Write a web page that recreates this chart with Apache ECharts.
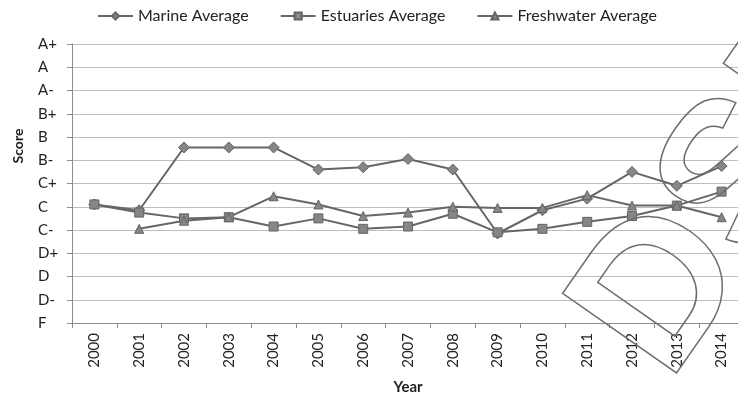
<!DOCTYPE html>
<html>
<head>
<meta charset="utf-8">
<script src="https://cdn.jsdelivr.net/npm/echarts@6/dist/echarts.min.js"></script>
<style>
html,body{margin:0;padding:0;background:#fff;}
#chart{width:738px;height:396px;}
</style>
</head>
<body>
<div id="chart"></div>
<script>
// Data
var years = ['2000','2001','2002','2003','2004','2005','2006','2007','2008','2009','2010','2011','2012','2013','2014'];
var gradeLabels = ['F','D-','D','D+','C-','C','C+','B-','B','B+','A-','A','A+'];
var marine = [5.1, 4.85, 7.55, 7.55, 7.55, 6.6, 6.7, 7.05, 6.6, 3.85, 4.85, 5.35, 6.5, 5.9, 6.75];
var estuaries = [5.1, 4.75, 4.5, 4.55, 4.15, 4.5, 4.05, 4.15, 4.7, 3.9, 4.05, 4.35, 4.6, 5.05, 5.65];
var freshwater = [null, 4.05, 4.4, 4.55, 5.45, 5.1, 4.6, 4.75, 5.0, 4.95, 4.95, 5.5, 5.05, 5.05, 4.55];

var FONT = 'Lato, "Open Sans", sans-serif';
var lineColor = '#666666';

var chart = echarts.init(document.getElementById('chart'));

function mk(name, data, symbol, size) {
  return {
    name: name,
    type: 'line',
    data: data,
    symbol: symbol,
    symbolSize: size,
    connectNulls: false,
    lineStyle: { color: lineColor, width: 2 },
    itemStyle: { color: '#868686', borderColor: '#646464', borderWidth: 1 },
    emphasis: { disabled: true },
    animation: false
  };
}

chart.setOption({
  backgroundColor: '#ffffff',
  animation: false,
  legend: {
    top: 3,
    left: 92,
    itemWidth: 35,
    itemHeight: 9,
    itemGap: 31,
    textStyle: { fontFamily: FONT, fontSize: 16, color: '#222' },
    data: ['Marine Average', 'Estuaries Average', 'Freshwater Average']
  },
  grid: { left: 72, top: 44, width: 672, height: 279, containLabel: false, outerBoundsMode: 'none' },
  xAxis: {
    type: 'category',
    data: years,
    boundaryGap: true,
    name: 'Year',
    nameLocation: 'middle',
    nameGap: 57,
    nameTextStyle: { fontFamily: FONT, fontSize: 15, fontWeight: 'bold', color: '#222' },
    axisLine: { lineStyle: { color: '#8c8c8c', width: 1 } },
    axisTick: { show: true, length: 5, lineStyle: { color: '#8c8c8c' } },
    axisLabel: { rotate: 90, margin: 10, fontFamily: FONT, fontSize: 15, color: '#222' },
    splitLine: { show: false }
  },
  yAxis: {
    type: 'value',
    min: 0,
    max: 12,
    interval: 1,
    axisLine: { show: true, lineStyle: { color: '#8c8c8c', width: 1 } },
    axisTick: { show: true, length: 5, lineStyle: { color: '#8c8c8c' } },
    axisLabel: {
      margin: 34,
      align: 'left',
      fontFamily: FONT,
      fontSize: 15,
      color: '#222',
      formatter: function (v) { return gradeLabels[v] || ''; }
    },
    splitLine: { show: true, lineStyle: { color: '#bdbdbd', width: 1 } }
  },
  graphic: [
    {
      type: 'text',
      x: 18, y: 146,
      rotation: Math.PI / 2,
      style: { text: 'Score', font: 'bold 14px ' + FONT, fill: '#222', textAlign: 'center', textVerticalAlign: 'middle' }
    },
    {
      type: 'text',
      x: 623, y: 352,
      rotation: 55 * Math.PI / 180,
      silent: true,
      z: 100,
      style: { text: 'DSE', font: 'bold 202px "Liberation Sans"', fill: 'rgba(0,0,0,0)', stroke: '#6e6e6e', lineWidth: 1.5, textAlign: 'left', textVerticalAlign: 'middle' }
    }
  ],
  series: [
    mk('Marine Average', marine, 'diamond', 11),
    mk('Estuaries Average', estuaries, 'rect', 9),
    mk('Freshwater Average', freshwater, 'triangle', 9)
  ]
});
</script>
</body>
</html>
